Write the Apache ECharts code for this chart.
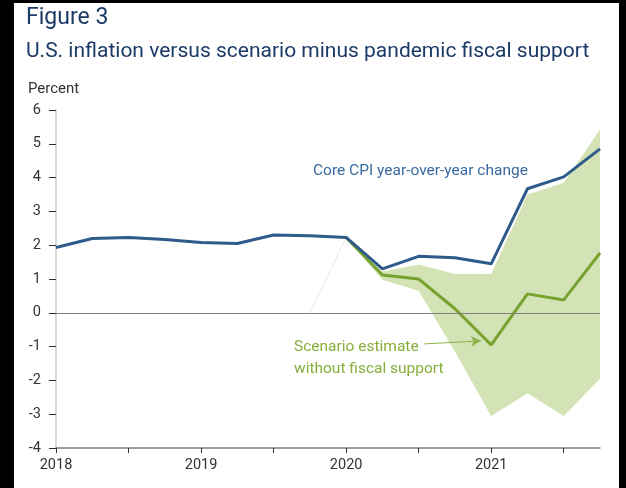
<!DOCTYPE html>
<html><head><meta charset="utf-8">
<script src="https://cdn.jsdelivr.net/npm/echarts@6/dist/echarts.min.js"></script>
<style>html,body{margin:0;padding:0;background:#fff}#c{width:626px;height:488px}</style>
</head><body><div id="c"></div>
<script>
// ---- data ----
const quarters = [2018, 2018.25, 2018.5, 2018.75, 2019, 2019.25, 2019.5, 2019.75,
                  2020, 2020.25, 2020.5, 2020.75, 2021, 2021.25, 2021.5, 2021.75];
const coreCPI = [1.93, 2.2, 2.23, 2.17, 2.08, 2.05, 2.3, 2.28,
                 2.23, 1.3, 1.67, 1.63, 1.45, 3.67, 4.02, 4.85];
const scenarioQuarters = [2020, 2020.25, 2020.5, 2020.75, 2021, 2021.25, 2021.5, 2021.75];
const scenario  = [2.23, 1.12, 1.0, 0.12, -0.95, 0.56, 0.38, 1.77];
const bandLower = [2.23, 0.98, 0.65, -1.15, -3.05, -2.38, -3.05, -1.95];
const bandUpper = [2.23, 1.22, 1.43, 1.15, 1.15, 3.5, 3.85, 5.42];
const guideX = [2019.75, 2020];
const guideY = [0, 2.23];
const arrowFrom = [2020.54, -0.92];
const arrowTo = [2020.93, -0.83];
const xTickValues = [2018, 2018.5, 2019, 2019.5, 2020, 2020.5, 2021, 2021.5];
const xYearLabels = [2018, 2019, 2020, 2021];
const yMin = -4, yMax = 6, yStep = 1;

const zip = (xs, ys) => xs.map((x, i) => [x, ys[i]]);
const FONT = 'Roboto';

const chart = echarts.init(document.getElementById('c'), null, {renderer: 'canvas'});
chart.setOption({
  animation: false,
  backgroundColor: '#fff',
  grid: {left: 56, right: 26, top: 110, bottom: 40, containLabel: false},
  xAxis: {
    type: 'value', min: 2018, max: 2021.75,
    axisLine: {show: true, onZero: false, lineStyle: {color: '#7f7f7f', width: 1.5}},
    axisTick: {show: true, length: 5, lineStyle: {color: '#333'}, customValues: xTickValues},
    axisLabel: {
      customValues: xYearLabels,
      formatter: v => String(v),
      color: '#333', fontSize: 14.5, fontFamily: FONT, margin: 10
    },
    splitLine: {show: false}
  },
  yAxis: {
    type: 'value', min: yMin, max: yMax, interval: yStep,
    axisLine: {show: true, lineStyle: {color: '#d9d9d9', width: 2}},
    axisTick: {show: true, length: 7, lineStyle: {color: '#333'}},
    axisLabel: {color: '#333', fontSize: 14.5, fontFamily: FONT, margin: 15},
    splitLine: {show: false}
  },
  series: [
    {
      name: 'band', type: 'custom', z: 1, silent: true, clip: true,
      data: scenarioQuarters.map((x, i) => [x, bandLower[i], bandUpper[i]]),
      renderItem: (params, api) => {
        if (params.dataIndex !== 0) return null;
        const pts = [];
        scenarioQuarters.forEach((x, i) => pts.push(api.coord([x, bandUpper[i]])));
        for (let i = scenarioQuarters.length - 1; i >= 0; i--) pts.push(api.coord([scenarioQuarters[i], bandLower[i]]));
        return {type: 'polygon', shape: {points: pts}, style: {fill: '#d3e3b5'}};
      },
      markLine: {
        silent: true, symbol: ['none', 'none'],
        lineStyle: {color: '#808080', width: 1, type: 'solid'},
        label: {show: false},
        data: [{yAxis: 0}]
      }
    },
    {
      name: 'guide', type: 'line', data: zip(guideX, guideY), symbol: 'none',
      lineStyle: {color: '#ecebd8', width: 1}, z: 2, silent: true
    },
    {
      name: 'Scenario estimate without fiscal support', type: 'line',
      data: zip(scenarioQuarters, scenario), symbol: 'none',
      lineStyle: {color: '#77a22f', width: 3}, z: 3,
      markLine: {
        silent: true, symbol: ['none', 'arrow'], symbolSize: [8, 10],
        lineStyle: {color: '#8cb24a', width: 1, type: 'solid'},
        label: {show: false},
        data: [[{coord: arrowFrom}, {coord: arrowTo}]]
      }
    },
    {
      name: 'Core CPI year-over-year change', type: 'line',
      data: zip(quarters, coreCPI), symbol: 'none',
      lineStyle: {color: '#2f5b8b', width: 3}, z: 4
    }
  ],
  graphic: [
    {type: 'text', left: 26, top: 7, style: {text: 'Figure 3', fill: '#1b3a66', font: '23px Roboto'}},
    {type: 'text', left: 26, top: 41, style: {text: 'U.S. inflation versus scenario minus pandemic fiscal support', fill: '#1b3a66', font: '21px Roboto'}},
    {type: 'text', left: 28, top: 82, style: {text: 'Percent', fill: '#333', font: '15px Roboto'}},
    {type: 'text', left: 313, top: 163, style: {text: 'Core CPI year-over-year change', fill: '#3a6aa0', font: '15.5px Roboto'}},
    {type: 'text', left: 294, top: 336, style: {text: 'Scenario estimate\nwithout fiscal support', fill: '#86ae3a', font: '15.5px Roboto', lineHeight: 22}},
    {type: 'rect', left: 0, top: 0, shape: {width: 14, height: 488}, style: {fill: '#000'}, z: 100},
    {type: 'rect', left: 0, top: 0, shape: {width: 626, height: 3}, style: {fill: '#000'}, z: 100},
    {type: 'rect', left: 619, top: 0, shape: {width: 7, height: 488}, style: {fill: '#000'}, z: 100}
  ]
});
</script>
</body></html>
